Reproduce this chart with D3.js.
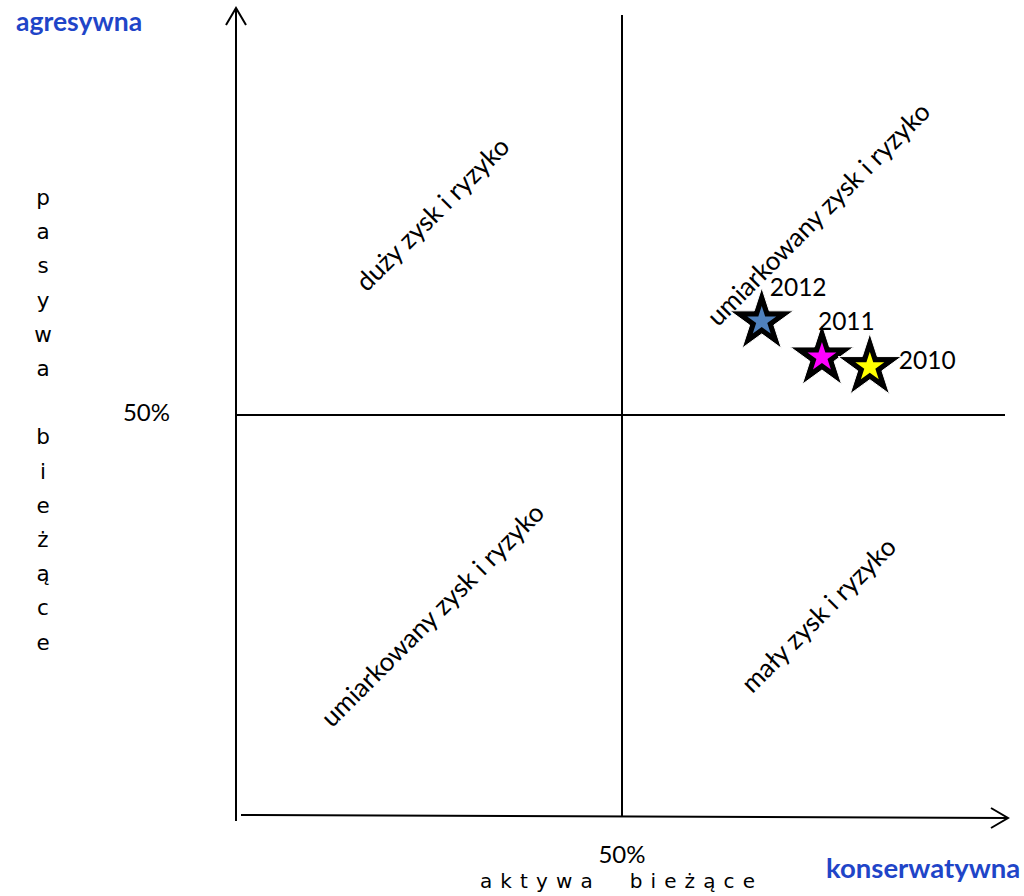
<!DOCTYPE html>
<html>
<head>
<meta charset="utf-8">
<script src="https://cdn.jsdelivr.net/npm/d3@7"></script>
<style>
  body { margin: 0; background: #fff; }
  svg { display: block; }
</style>
</head>
<body>
<div id="chart"></div>
<script>
// data (percent shares)
var years = ["2012", "2011", "2010"];
var aktywa = [68.1, 75.9, 82.1];   // x: aktywa bieżące
var pasywa = [61.7, 57.2, 56.0];   // y: pasywa bieżące
var starColors = ["#4f81bd", "#ff00ff", "#ffff00"];
var quadrants = ["duży zysk i ryzyko", "umiarkowany zysk i ryzyko", "umiarkowany zysk i ryzyko", "mały zysk i ryzyko"];
var quadX = [25, 75, 25, 75];
var quadY = [75, 75, 25, 25];

var width = 1024, height = 896;

var svg = d3.select("#chart").append("svg")
    .attr("width", width)
    .attr("height", height);

var x = d3.scaleLinear().domain([0, 100]).range([236, 1008]);
var y = d3.scaleLinear().domain([0, 100]).range([816, 14]);

var line = function(x1, y1, x2, y2) {
  svg.append("line")
    .attr("x1", x1).attr("y1", y1).attr("x2", x2).attr("y2", y2)
    .attr("stroke", "#000").attr("stroke-width", 2);
};

// axes
line(x(0), y(0) + 5, x(0), y(100) - 6);
line(x(0) + 5, y(0) - 1, x(100), y(0) + 2);
// arrow heads
svg.append("path").attr("d", "M" + (x(0) - 10) + "," + (y(100) + 11) + "L" + x(0) + "," + (y(100) - 6) + "L" + (x(0) + 10) + "," + (y(100) + 11))
  .attr("fill", "none").attr("stroke", "#000").attr("stroke-width", 2);
svg.append("path").attr("d", "M" + (x(100) - 17) + "," + (y(0) - 8) + "L" + x(100) + "," + (y(0) + 2) + "L" + (x(100) - 17) + "," + (y(0) + 12))
  .attr("fill", "none").attr("stroke", "#000").attr("stroke-width", 2);

// 50% lines
line(x(50), y(100) + 1, x(50), y(0));
line(x(0), y(50), x(100) - 3, y(50));

// quadrant labels
svg.selectAll(".quad")
  .data(quadrants)
  .enter().append("text")
  .attr("class", "quad")
  .attr("transform", function(d, i) { return "translate(" + (x(quadX[i]) + 10) + "," + (y(quadY[i]) + 6) + ") rotate(-45)"; })
  .attr("text-anchor", "middle")
  .attr("font-family", "Lato, 'Open Sans', sans-serif")
  .attr("font-size", 26)
  .attr("fill", "#000")
  .text(function(d) { return d; });

// stars
var bigStar = d3.symbol().type(d3.symbolStar).size(1250);
var smallStar = d3.symbol().type(d3.symbolStar).size(260);

var pts = svg.selectAll(".pt")
  .data(years)
  .enter().append("g")
  .attr("class", "pt")
  .attr("transform", function(d, i) { return "translate(" + x(aktywa[i]) + "," + y(pasywa[i]) + ")"; });

pts.append("path")
  .attr("d", bigStar)
  .attr("fill", "#000")
  .attr("stroke", "#fff")
  .attr("stroke-width", 1);
pts.append("path")
  .attr("d", smallStar)
  .attr("fill", function(d, i) { return starColors[i]; });

var labelDx = [8, -4, 29];
var labelDy = [-25, -27, 2];
pts.append("text")
  .attr("x", function(d, i) { return labelDx[i]; })
  .attr("y", function(d, i) { return labelDy[i]; })
  .attr("font-family", "Lato, 'Open Sans', sans-serif")
  .attr("font-size", 24.5)
  .attr("fill", "#000")
  .text(function(d) { return d; });

// 50% labels
svg.append("text")
  .attr("x", 170).attr("y", y(50) + 6)
  .attr("text-anchor", "end")
  .attr("font-family", "Lato, sans-serif").attr("font-size", 24)
  .text("50%");
svg.append("text")
  .attr("x", x(50)).attr("y", 863)
  .attr("text-anchor", "middle")
  .attr("font-family", "Lato, sans-serif").attr("font-size", 24)
  .text("50%");

// axis titles
svg.append("text")
  .attr("x", 480).attr("y", 888)
  .attr("font-family", "'DejaVu Sans', sans-serif").attr("font-size", 20)
  .attr("textLength", 275)
  .attr("lengthAdjust", "spacing")
  .attr("xml:space", "preserve")
  .text("aktywa  bieżące");

var yTitle = "pasywa bieżące".split("");
svg.selectAll(".ylet")
  .data(yTitle)
  .enter().append("text")
  .attr("class", "ylet")
  .attr("x", 43)
  .attr("y", function(d, i) { return 205 + i * 34.2; })
  .attr("text-anchor", "middle")
  .attr("font-family", "'DejaVu Sans', sans-serif").attr("font-size", 21.5)
  .text(function(d) { return d; });

svg.append("text")
  .attr("x", 16).attr("y", 31)
  .attr("font-family", "Lato, sans-serif").attr("font-weight", "bold").attr("font-size", 26.5)
  .attr("fill", "#1f45c8")
  .text("agresywna");
svg.append("text")
  .attr("x", 826).attr("y", 878)
  .attr("font-family", "Lato, sans-serif").attr("font-weight", "bold").attr("font-size", 27.5)
  .attr("fill", "#1f45c8")
  .text("konserwatywna");
</script>
</body>
</html>
